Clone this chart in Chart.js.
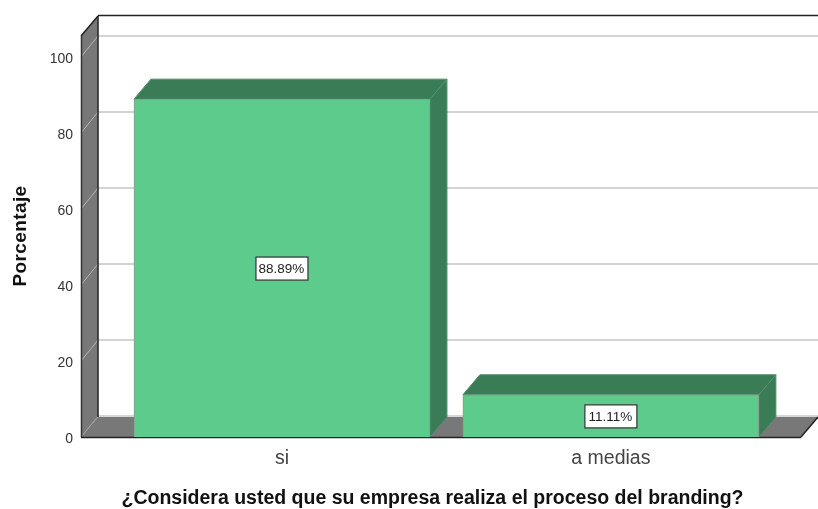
<!DOCTYPE html>
<html><head><meta charset="utf-8">
<style>html,body{margin:0;padding:0;background:#fff}canvas{display:block;filter:blur(0.35px)}</style>
<script src="https://cdn.jsdelivr.net/npm/chart.js@4"></script>
</head><body><canvas id="c" width="818" height="509"></canvas>
<script>
const categories = ['si', 'a medias'];
const positions = [0, 1];
const percentages = [88.89, 11.11];
const valueLabels = ['88.89%', '11.11%'];
const yTicks = [0, 20, 40, 60, 80, 100];
const xTitle = '¿Considera usted que su empresa realiza el proceso del branding?';
const yTitle = 'Porcentaje';
const DX = 17, DY = 20;
const FONT = '"Liberation Sans", Arial, sans-serif';

function poly(ctx, pts, fill, stroke, lw) {
  ctx.beginPath();
  pts.forEach((p, i) => i ? ctx.lineTo(p[0], p[1]) : ctx.moveTo(p[0], p[1]));
  ctx.closePath();
  if (fill) { ctx.fillStyle = fill; ctx.fill(); }
  if (stroke) { ctx.strokeStyle = stroke; ctx.lineWidth = lw || 1; ctx.stroke(); }
}
function line(ctx, x1, y1, x2, y2, c, w) {
  ctx.beginPath(); ctx.moveTo(x1, y1); ctx.lineTo(x2, y2);
  ctx.strokeStyle = c; ctx.lineWidth = w || 1; ctx.stroke();
}
const box3d = {
  id: 'box3d',
  beforeDatasetsDraw(chart) {
    const { ctx, chartArea: a, scales: { y } } = chart;
    const wall = '#787878', grid = '#c4c4c4', dark = '#222';
    ctx.save();
    poly(ctx, [[a.left, a.bottom], [a.right, a.bottom], [a.right + DX, a.bottom - DY], [a.left + DX, a.bottom - DY]], wall);
    line(ctx, a.left + DX, a.bottom - DY - 1, a.right + DX, a.bottom - DY - 1, '#c8c8c8', 1.5);
    poly(ctx, [[a.left, a.bottom], [a.left + DX, a.bottom - DY], [a.left + DX, a.top - DY], [a.left, a.top]], wall);
    yTicks.forEach(v => {
      const py = y.getPixelForValue(v);
      if (v > 0) line(ctx, a.left + DX, py - DY - 1, a.right + DX, py - DY - 1, grid, 1.5);
      line(ctx, a.left, py, a.left + DX, py - DY - 1, v === 0 ? '#a0a0a0' : '#b4b4b4', 1);
    });
    line(ctx, a.left + DX, a.top - DY - 0.5, a.right + DX, a.top - DY - 0.5, dark, 1.5);
    line(ctx, a.left, a.top, a.left + DX, a.top - DY, dark, 1.5);
    line(ctx, a.left + 0.5, a.top, a.left + 0.5, a.bottom, '#333', 1.5);
    line(ctx, a.left + DX, a.top - DY, a.left + DX, a.bottom - DY, dark, 1.5);
    line(ctx, a.left, a.bottom + 0.5, a.right, a.bottom + 0.5, dark, 1.5);
    line(ctx, a.right, a.bottom, a.right + DX, a.bottom - DY, dark, 1.5);
    chart.getDatasetMeta(0).data.forEach(b => {
      const l = b.x - b.width / 2, r = b.x + b.width / 2, t = b.y, bt = b.base;
      const side = '#3a7c55', edge = '#4f8f6a';
      poly(ctx, [[l, t], [r, t], [r + DX, t - DY], [l + DX, t - DY]], side, edge, 1);
      poly(ctx, [[r, t], [r + DX, t - DY], [r + DX, bt - DY], [r, bt]], side, edge, 1);
    });
    ctx.restore();
  },
  afterDatasetsDraw(chart) {
    const { ctx } = chart;
    ctx.save();
    chart.getDatasetMeta(0).data.forEach((b, i) => {
      const cx = b.x, cy = (b.y + b.base) / 2 + 0.5, w = 52, h = 23;
      ctx.fillStyle = '#fff'; ctx.strokeStyle = '#333'; ctx.lineWidth = 1.2;
      ctx.fillRect(cx - w / 2, cy - h / 2, w, h);
      ctx.strokeRect(cx - w / 2, cy - h / 2, w, h);
      ctx.fillStyle = '#222'; ctx.font = '13.5px ' + FONT;
      ctx.textAlign = 'center'; ctx.textBaseline = 'middle';
      ctx.fillText(valueLabels[i], cx - 0.5, cy + 0.5);
    });
    ctx.restore();
  },
  afterDraw(chart) {
    const { ctx } = chart;
    ctx.save();
    ctx.fillStyle = '#111';
    ctx.textAlign = 'center'; ctx.textBaseline = 'middle';
    ctx.font = 'bold 19.5px ' + FONT;
    ctx.fillText(xTitle, 432.5, 499);
    ctx.font = 'bold 19px ' + FONT;
    ctx.letterSpacing = '0.4px';
    ctx.translate(21, 236);
    ctx.rotate(-Math.PI / 2);
    ctx.fillText(yTitle, 0, 0);
    ctx.restore();
  }
};
new Chart(document.getElementById('c'), {
  type: 'bar',
  data: { datasets: [{
    data: positions.map((x, i) => ({ x, y: percentages[i] })),
    backgroundColor: '#5dcb8c', borderColor: '#8a9a90', borderWidth: 1,
    barThickness: 296
  }] },
  options: {
    responsive: false, animation: false,
    layout: { padding: { top: 36, right: 17, left: 0, bottom: 0 } },
    plugins: { legend: { display: false }, tooltip: { enabled: false } },
    scales: {
      x: {
        type: 'linear', offset: false, min: -0.611, max: 1.578,
        grid: { display: false, tickLength: 0 }, border: { display: false },
        afterBuildTicks(s) { s.ticks = positions.map(v => ({ value: v })); },
        afterFit(s) { s.height = 72; },
        ticks: { autoSkip: false, maxRotation: 0, padding: 10, color: '#444',
          font: { family: FONT, size: 19.5 },
          callback: v => categories[v] }
      },
      y: {
        min: 0, max: 105.5,
        grid: { display: false, tickLength: 0 }, border: { display: false },
        afterBuildTicks(s) { s.ticks = yTicks.map(v => ({ value: v })); },
        afterFit(s) { s.width = 81; },
        ticks: { padding: 8, labelOffset: 2, color: '#333', font: { family: FONT, size: 14 } }
      }
    }
  },
  plugins: [box3d]
});
</script></body></html>
